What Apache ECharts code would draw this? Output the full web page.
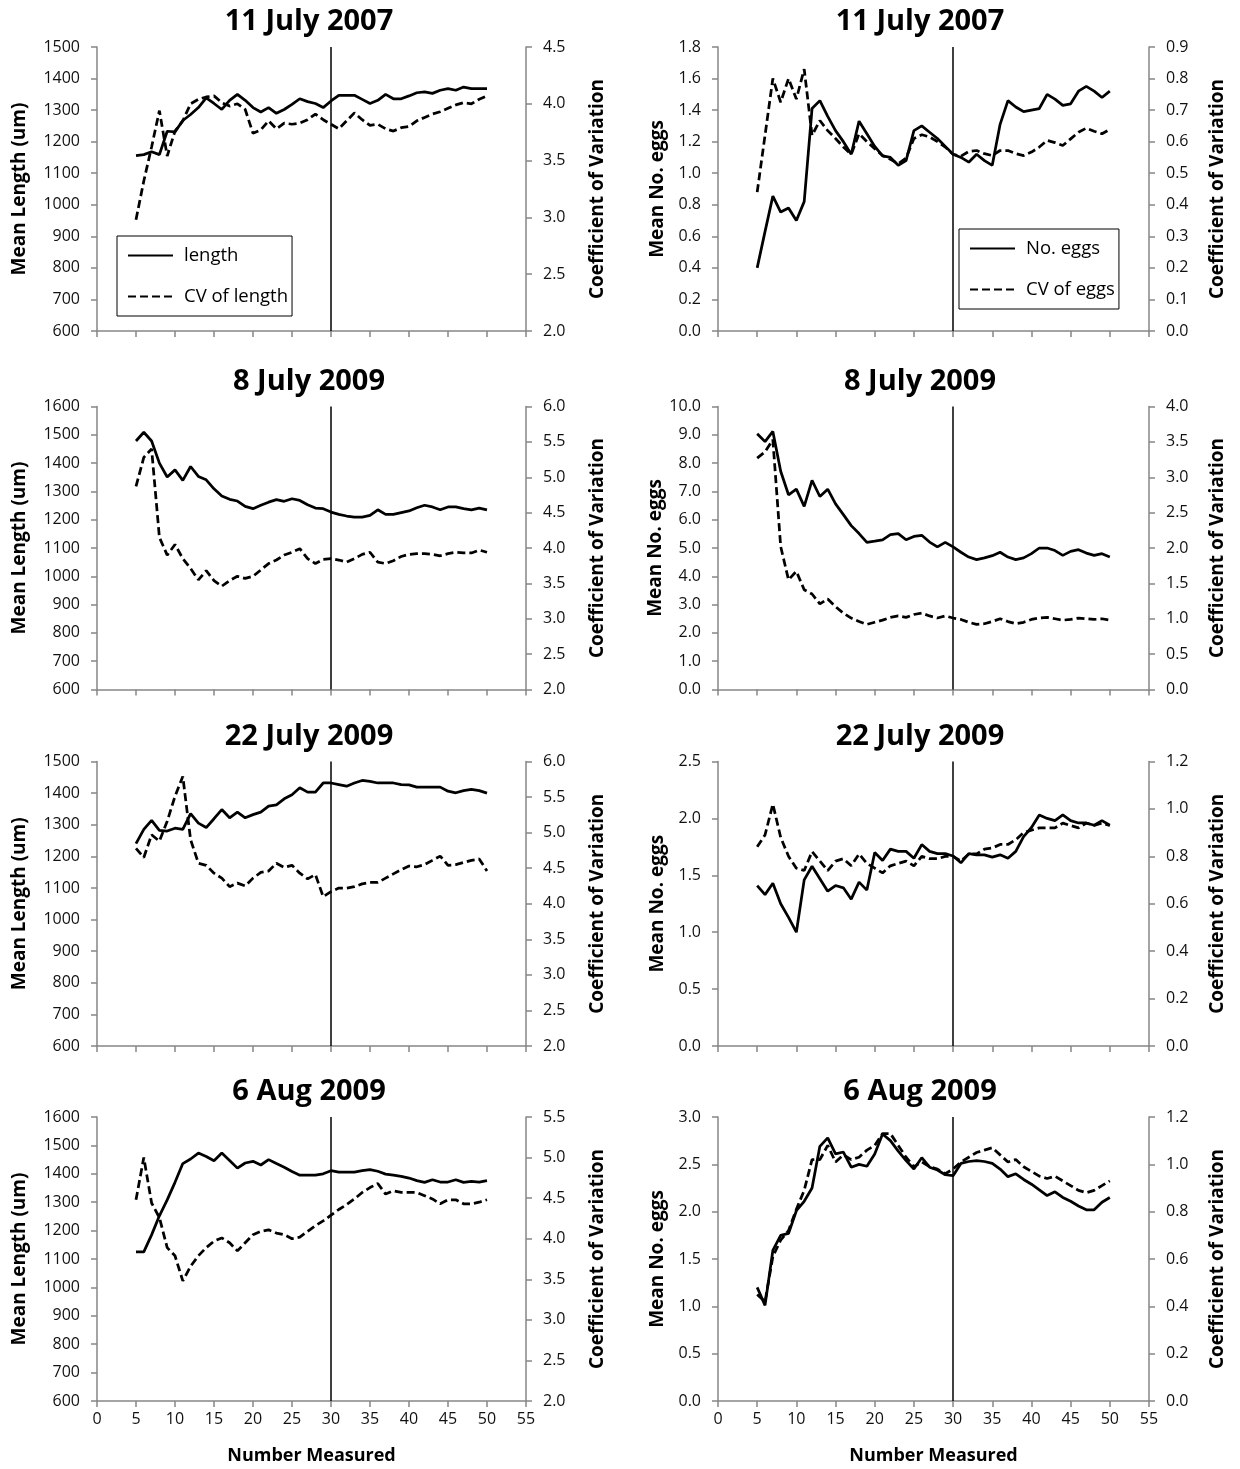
<!DOCTYPE html>
<html>
<head>
<meta charset="utf-8">
<script src="https://cdn.jsdelivr.net/npm/echarts@6/dist/echarts.min.js"></script>
<style>
html,body{margin:0;padding:0;background:#fff;}
#c{width:1240px;height:1469px;}
</style>
</head>
<body>
<div id="c"></div>
<script>
// ---------- DATA ----------
const numberMeasured = [5,6,7,8,9,10,11,12,13,14,15,16,17,18,19,20,21,22,23,24,25,26,27,28,29,30,31,32,33,34,35,36,37,38,39,40,41,42,43,44,45,46,47,48,49,50];
const xTicks = [0,5,10,15,20,25,30,35,40,45,50,55];
const panelTitles = ['11 July 2007','11 July 2007','8 July 2009','8 July 2009','22 July 2009','22 July 2009','6 Aug 2009','6 Aug 2009'];

// 11 July 2007
const length_11Jul2007 = [1156,1159,1168,1159,1233,1231,1267,1286,1308,1339,1321,1302,1331,1350,1331,1308,1294,1308,1290,1302,1318,1336,1327,1321,1308,1329,1347,1347,1347,1334,1321,1331,1350,1336,1336,1345,1355,1358,1353,1363,1368,1363,1373,1368,1368,1368];
const cvLength_11Jul2007 = [2.98,3.32,3.62,3.94,3.54,3.76,3.85,4.00,4.04,4.06,4.07,4.01,3.98,4.00,3.95,3.74,3.77,3.85,3.78,3.83,3.82,3.83,3.86,3.91,3.86,3.82,3.78,3.85,3.92,3.86,3.81,3.82,3.78,3.76,3.79,3.80,3.85,3.88,3.91,3.93,3.96,3.99,4.01,4.00,4.04,4.07];
const eggs_11Jul2007 = [0.40,0.63,0.855,0.754,0.78,0.70,0.82,1.41,1.46,1.36,1.27,1.20,1.12,1.33,1.25,1.17,1.11,1.10,1.05,1.08,1.27,1.30,1.26,1.22,1.17,1.12,1.10,1.07,1.12,1.08,1.05,1.31,1.46,1.42,1.39,1.40,1.41,1.50,1.47,1.43,1.44,1.52,1.55,1.52,1.48,1.52];
const cvEggs_11Jul2007 = [0.44,0.62,0.80,0.725,0.80,0.735,0.83,0.62,0.667,0.635,0.61,0.583,0.56,0.625,0.60,0.578,0.556,0.544,0.53,0.548,0.61,0.622,0.615,0.60,0.583,0.56,0.554,0.569,0.572,0.562,0.556,0.572,0.572,0.562,0.556,0.567,0.583,0.604,0.597,0.588,0.609,0.63,0.643,0.633,0.625,0.639];

// 8 July 2009
const length_8Jul2009 = [1478,1509,1478,1400,1351,1376,1339,1388,1353,1341,1309,1284,1272,1266,1247,1239,1251,1262,1271,1265,1274,1268,1253,1241,1239,1227,1219,1213,1209,1209,1215,1235,1219,1219,1225,1231,1242,1251,1245,1235,1245,1245,1239,1235,1241,1235];
const cvLength_8Jul2009 = [4.87,5.28,5.40,4.15,3.90,4.05,3.85,3.71,3.55,3.68,3.54,3.46,3.54,3.60,3.57,3.60,3.69,3.78,3.83,3.90,3.94,3.99,3.85,3.78,3.84,3.85,3.83,3.80,3.85,3.91,3.94,3.80,3.78,3.82,3.88,3.91,3.92,3.92,3.91,3.89,3.92,3.94,3.93,3.93,3.97,3.94];
const eggs_8Jul2009 = [9.04,8.76,9.12,7.71,6.88,7.08,6.47,7.39,6.82,7.08,6.56,6.18,5.79,5.51,5.20,5.24,5.29,5.47,5.51,5.29,5.41,5.45,5.21,5.04,5.20,5.04,4.85,4.68,4.59,4.65,4.73,4.85,4.68,4.59,4.65,4.80,5.00,5.00,4.91,4.74,4.88,4.94,4.82,4.74,4.80,4.68];
const cvEggs_8Jul2009 = [3.27,3.36,3.53,2.02,1.55,1.67,1.41,1.35,1.21,1.28,1.17,1.08,1.01,0.96,0.92,0.95,0.98,1.02,1.04,1.02,1.06,1.08,1.04,1.01,1.04,1.01,0.99,0.95,0.92,0.93,0.96,1.00,0.96,0.93,0.95,0.99,1.01,1.02,1.00,0.98,0.99,1.01,1.00,0.99,1.00,0.98];

// 22 July 2009
const length_22Jul2009 = [1240,1285,1314,1282,1280,1289,1285,1335,1305,1291,1319,1348,1322,1340,1322,1332,1340,1359,1363,1382,1395,1417,1403,1403,1432,1432,1427,1422,1432,1440,1437,1432,1432,1432,1427,1426,1419,1419,1419,1419,1406,1401,1408,1412,1408,1400];
const cvLength_22Jul2009 = [4.78,4.65,4.97,4.88,5.16,5.51,5.79,4.90,4.57,4.54,4.43,4.36,4.24,4.29,4.25,4.36,4.44,4.46,4.57,4.51,4.54,4.43,4.35,4.41,4.10,4.17,4.22,4.22,4.24,4.28,4.30,4.30,4.36,4.42,4.48,4.53,4.52,4.55,4.61,4.67,4.54,4.55,4.58,4.61,4.63,4.46];
const eggs_22Jul2009 = [1.41,1.33,1.43,1.25,1.13,1.00,1.46,1.58,1.47,1.36,1.41,1.39,1.29,1.44,1.37,1.70,1.63,1.73,1.71,1.71,1.65,1.77,1.71,1.69,1.69,1.67,1.61,1.69,1.68,1.68,1.66,1.68,1.65,1.71,1.84,1.92,2.03,2.00,1.98,2.03,1.98,1.96,1.96,1.94,1.98,1.94];
const cvEggs_22Jul2009 = [0.84,0.89,1.02,0.88,0.80,0.75,0.74,0.82,0.78,0.74,0.78,0.79,0.76,0.81,0.77,0.75,0.73,0.76,0.77,0.78,0.76,0.80,0.79,0.79,0.80,0.80,0.78,0.81,0.81,0.83,0.835,0.85,0.85,0.87,0.90,0.91,0.92,0.92,0.92,0.94,0.93,0.92,0.94,0.93,0.94,0.93];

// 6 Aug 2009
const length_6Aug2009 = [1125,1125,1185,1252,1308,1370,1436,1452,1473,1461,1446,1473,1447,1420,1438,1444,1431,1450,1436,1423,1408,1395,1395,1395,1400,1411,1406,1406,1406,1411,1415,1409,1399,1395,1391,1385,1376,1370,1379,1371,1371,1379,1370,1373,1371,1376];
const cvLength_6Aug2009 = [4.48,5.00,4.44,4.26,3.89,3.79,3.48,3.66,3.79,3.89,3.97,4.01,3.95,3.85,3.95,4.05,4.09,4.11,4.07,4.05,4.00,4.02,4.09,4.16,4.22,4.29,4.36,4.42,4.49,4.57,4.63,4.68,4.55,4.59,4.57,4.57,4.57,4.53,4.49,4.43,4.48,4.48,4.43,4.43,4.45,4.48];
const eggs_6Aug2009 = [1.20,1.01,1.59,1.75,1.77,2.01,2.11,2.25,2.69,2.78,2.61,2.63,2.47,2.50,2.48,2.61,2.82,2.75,2.64,2.54,2.45,2.57,2.47,2.44,2.39,2.38,2.51,2.53,2.54,2.53,2.51,2.45,2.37,2.40,2.34,2.29,2.23,2.17,2.21,2.15,2.11,2.06,2.02,2.02,2.10,2.15];
const cvEggs_6Aug2009 = [0.45,0.42,0.61,0.68,0.72,0.81,0.89,1.02,1.02,1.08,1.01,1.04,1.02,1.03,1.06,1.08,1.13,1.13,1.08,1.03,0.99,1.01,0.99,0.98,0.96,0.98,1.01,1.03,1.05,1.06,1.07,1.04,1.01,1.02,0.99,0.97,0.95,0.94,0.95,0.93,0.91,0.89,0.88,0.89,0.91,0.93];

// axis ranges [min, max, interval] per panel
const leftAxisRanges = [[600,1500,100],[0,1.8,0.2],[600,1600,100],[0,10,1],[600,1500,100],[0,2.5,0.5],[600,1600,100],[0,3,0.5]];
const rightAxisRanges = [[2,4.5,0.5],[0,0.9,0.1],[2,6,0.5],[0,4,0.5],[2,6,0.5],[0,1.2,0.2],[2,5.5,0.5],[0,1.2,0.2]];
const mainSeries = [length_11Jul2007, eggs_11Jul2007, length_8Jul2009, eggs_8Jul2009, length_22Jul2009, eggs_22Jul2009, length_6Aug2009, eggs_6Aug2009];
const cvSeries = [cvLength_11Jul2007, cvEggs_11Jul2007, cvLength_8Jul2009, cvEggs_8Jul2009, cvLength_22Jul2009, cvEggs_22Jul2009, cvLength_6Aug2009, cvEggs_6Aug2009];
const seriesNames = [['length','CV of length'],['No. eggs','CV of eggs']];
const leftAxisNames = ['Mean Length (um)','Mean No. eggs'];
const rightAxisName = 'Coefficient of Variation';
const xAxisName = 'Number Measured';
const dividerX = 30;

// ---------- LAYOUT ----------
const FONT = "'Open Sans', 'Liberation Sans', sans-serif";
const AXIS_GRAY = '#868686';
const NAME_SIZE = 19;
const TITLE_SIZE = 29;
const TICK_SIZE = 16;
const cols = [{left:97, width:429, titleX:309, leftGap:67.5, rightGap:62.5},
              {left:718, width:431, titleX:920, leftGap:50.5, rightGap:59.5}];
const rows = [{top:47, height:284}, {top:406.5, height:283}, {top:761.5, height:284.5}, {top:1117, height:284}];

const grids = [], xAxes = [], yAxes = [], series = [], titles = [];
for (let i = 0; i < 8; i++) {
  const c = i % 2, r = Math.floor(i / 2);
  const col = cols[c], row = rows[r];
  grids.push({left: col.left, top: row.top, width: col.width, height: row.height, containLabel: false});
  titles.push({text: panelTitles[i], left: col.titleX, top: row.top - 25 - TITLE_SIZE / 2, textAlign: 'center', padding: 0,
    textStyle: {fontFamily: FONT, fontSize: TITLE_SIZE, fontWeight: 'bold', color: '#000'}});
  const bottom = r === 3;
  xAxes.push({
    type: 'value', gridIndex: i, min: xTicks[0], max: xTicks[xTicks.length - 1], interval: 5,
    axisLine: {show: true, onZero: false, lineStyle: {color: AXIS_GRAY, width: 1.5}},
    axisTick: {show: true, length: 6, lineStyle: {color: AXIS_GRAY, width: 1.5}},
    axisLabel: {show: bottom, fontFamily: FONT, fontSize: TICK_SIZE, color: '#111', margin: 10},
    splitLine: {show: false},
    name: bottom ? xAxisName : '', nameLocation: 'middle', nameGap: 46,
    nameTextStyle: {fontFamily: FONT, fontSize: 18, fontWeight: 'bold', color: '#000'}
  });
  const la = leftAxisRanges[i], ra = rightAxisRanges[i];
  const leftDec = c === 0 ? 0 : 1;
  yAxes.push({
    type: 'value', gridIndex: i, position: 'left', min: la[0], max: la[1], interval: la[2],
    axisLine: {show: true, lineStyle: {color: AXIS_GRAY, width: 1.5}},
    axisTick: {show: true, length: 6, lineStyle: {color: AXIS_GRAY, width: 1.5}},
    axisLabel: {fontFamily: FONT, fontSize: TICK_SIZE, color: '#111', margin: 17, formatter: v => v.toFixed(leftDec)},
    splitLine: {show: false},
    name: leftAxisNames[c], nameLocation: 'middle', nameRotate: 90, nameGap: col.leftGap,
    nameTextStyle: {fontFamily: FONT, fontSize: NAME_SIZE, fontWeight: 'bold', color: '#000'}
  });
  yAxes.push({
    type: 'value', gridIndex: i, position: 'right', min: ra[0], max: ra[1], interval: ra[2],
    axisLine: {show: true, lineStyle: {color: AXIS_GRAY, width: 1.5}},
    axisTick: {show: true, length: 6, lineStyle: {color: AXIS_GRAY, width: 1.5}},
    axisLabel: {fontFamily: FONT, fontSize: TICK_SIZE, color: '#111', margin: 17, formatter: v => v.toFixed(1)},
    splitLine: {show: false},
    name: rightAxisName, nameLocation: 'middle', nameRotate: 90, nameGap: col.rightGap,
    nameTextStyle: {fontFamily: FONT, fontSize: NAME_SIZE, fontWeight: 'bold', color: '#000'}
  });
  series.push({
    type: 'line', name: seriesNames[c][0], xAxisIndex: i, yAxisIndex: 2 * i,
    data: numberMeasured.map((x, k) => [x, mainSeries[i][k]]),
    symbol: 'none', showSymbol: false, silent: true,
    lineStyle: {color: '#000', width: 2.75, type: 'solid'}, itemStyle: {color: '#000'},
    markLine: {silent: true, symbol: ['none', 'none'], label: {show: false},
      lineStyle: {color: '#000', width: 1.5, type: 'solid'}, data: [{xAxis: dividerX}]}
  });
  series.push({
    type: 'line', name: seriesNames[c][1], xAxisIndex: i, yAxisIndex: 2 * i + 1,
    data: numberMeasured.map((x, k) => [x, cvSeries[i][k]]),
    symbol: 'none', showSymbol: false, silent: true,
    lineStyle: {color: '#000', width: 2.75, type: [8, 4]}, itemStyle: {color: '#000'}
  });
}

const legendCommon = {
  orient: 'vertical', borderColor: '#000', borderWidth: 1, backgroundColor: '#fff',
  padding: [10, 4, 10, 10], itemWidth: 45, itemHeight: 14, itemGap: 22, selectedMode: false,
  itemStyle: {opacity: 0, borderWidth: 0},
  textStyle: {fontFamily: FONT, fontSize: 18.5, color: '#000', padding: [0, 4, 0, 6]}
};

const chart = echarts.init(document.getElementById('c'), null, {renderer: 'canvas'});
chart.setOption({
  animation: false,
  backgroundColor: '#fff',
  title: titles,
  legend: [
    Object.assign({}, legendCommon, {left: 117, top: 236, data: seriesNames[0]}),
    Object.assign({}, legendCommon, {left: 959, top: 229, data: seriesNames[1]})
  ],
  grid: grids,
  xAxis: xAxes,
  yAxis: yAxes,
  series: series
});
</script>
</body>
</html>
